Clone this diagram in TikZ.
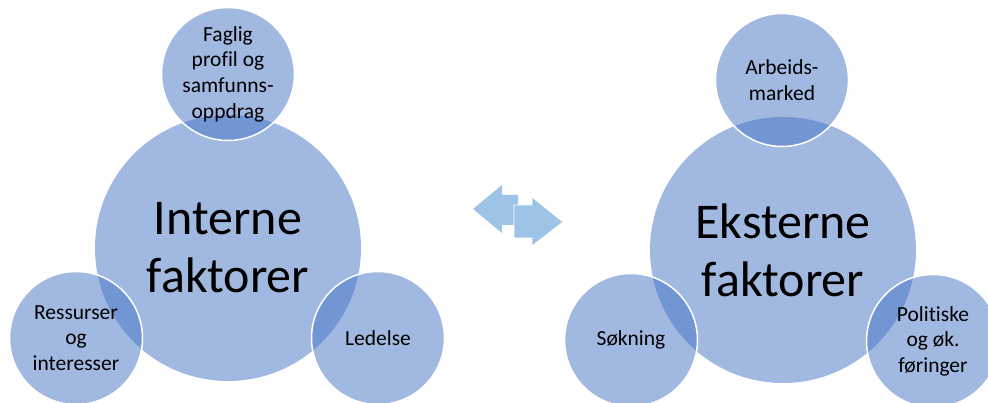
\documentclass[tikz,border=0pt]{standalone}
\usepackage{fontspec}
\setmainfont{Carlito}[Ligatures=NoCommon]
\usepackage{tikz}
\definecolor{rundblaa}{HTML}{4472C4}
\definecolor{pilblaa}{HTML}{9DC3E6}
\newcommand{\smaafont}{\fontsize{21.5}{25.6}\selectfont}
\newcommand{\storfont}{\fontsize{50}{58}\selectfont}

\begin{document}
\begin{tikzpicture}[x=1pt, y=-1pt,
		sirkel/.style={circle, inner sep=0pt, fill=rundblaa, fill opacity=0.5, text opacity=1},
		stor/.style={sirkel, minimum size=266pt},
		liten/.style={sirkel, minimum size=133pt, draw=white, draw opacity=1, line width=1.5pt},
		smaatekst/.style={font=\smaafont, align=center, text opacity=1},
		stortekst/.style={font=\storfont, align=center, text opacity=1},
		pil/.style={fill=pilblaa, draw=white, line width=0.8pt, line join=miter}]
	\useasboundingbox (0,0) rectangle (988,403);
	% interne faktorer
	\node[stor, label={[stortekst]center:Interne\\faktorer}] (intern) at (228,248) {};
	\node[liten, label={[smaatekst]center:Faglig\\profil og\\samfunns-\\oppdrag}] (faglig) at (228,74) {};
	\node[liten, label={[smaatekst]center:Ressurser\\og\\interesser}] (ressurser) at (76,338) {};
	\node[liten, label={[smaatekst]center:Ledelse}] (ledelse) at (378,338) {};
	% eksterne faktorer
	\node[stor, label={[stortekst]center:Eksterne\\faktorer}] (ekstern) at (783,250) {};
	\node[liten, label={[smaatekst]center:Arbeids-\\marked}] (arbeid) at (782,80) {};
	\node[liten, label={[smaatekst]center:Søkning}] (sokning) at (631,340) {};
	\node[liten, label={[smaatekst]center:Politiske\\og øk.\\føringer}] (politikk) at (933,341) {};
	% dobbel pil
	\fill[pilblaa] (473,209) -- (502,185) -- (502,195) -- (518,195) -- (518,225) -- (502,225) -- (502,233) -- cycle;
	\filldraw[pil] (563,222) -- (532,197) -- (532,205) -- (514,205) -- (514,238) -- (532,238) -- (532,246) -- cycle;
\end{tikzpicture}
\end{document}
